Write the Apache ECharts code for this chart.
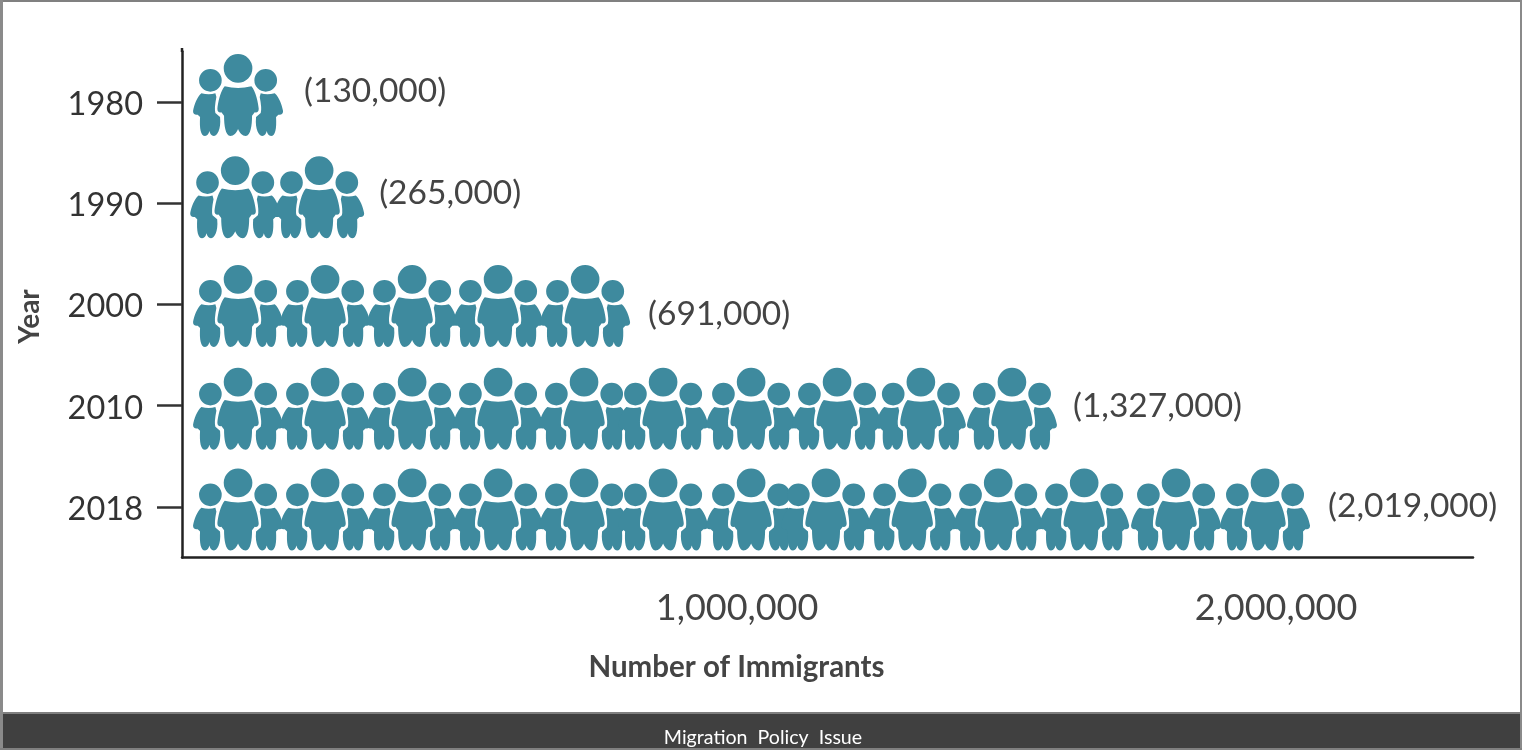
<!DOCTYPE html>
<html><head><meta charset="utf-8">
<style>html,body{margin:0;padding:0;background:#fff}#c{width:1522px;height:750px}</style>
<script src="https://cdn.jsdelivr.net/npm/echarts@6/dist/echarts.min.js"></script>
</head><body><div id="c"></div>
<script>
// Data
const years = ['1980', '1990', '2000', '2010', '2018'];
const immigrants = [130000, 265000, 691000, 1327000, 2019000];
const xTicks = [1000000, 2000000];
// Where each three-person icon sits, in immigrants on the x axis
const icons1980 = [74000];
const icons1990 = [68700, 224500];
const icons2000 = [74000, 235500, 397000, 556500, 718000];
const icons2010 = [74000, 235500, 397000, 556500, 716000, 862700, 1026000, 1185500, 1341000, 1510000];
const icons2018 = [74000, 235500, 397000, 556500, 716000, 862700, 1026000, 1165000, 1325000, 1484500, 1644000, 1814500, 1979600];
const iconRows = [icons1980, icons1990, icons2000, icons2010, icons2018];

// Presentation
const iconPath = 'path://' +
  'M92,44a43,43 0 1,0 86,0a43,43 0 1,0 -86,0Z' +
  'M95,98Q135,108 175,98C188,112 196,150 197,165Q197,178 185,176L177,186C177,215 173,245 158,247C148,247 140,238 135,226C130,238 122,247 112,247C97,245 93,215 93,186L85,176Q73,178 73,165C74,150 82,112 95,98Z' +
  'M18,80a34,34 0 1,0 68,0a34,34 0 1,0 -68,0Z' +
  'M25,119Q48,125 67,119L70,130Q63,165 67,178L81,190C85,230 71,247 62,247C55,247 51,240 49,232C47,240 43,247 36,247C23,247 19,225 21,190L14,183Q0,185 0,172C3,155 12,130 25,119Z' +
  'M184,80a34,34 0 1,0 68,0a34,34 0 1,0 -68,0Z' +
  'M245,119Q222,125 203,119L200,130Q207,165 203,178L189,190C185,230 199,247 208,247C215,247 219,240 221,232C223,240 227,247 234,247C247,247 251,225 249,190L256,183Q270,185 270,172C267,155 258,130 245,119Z';
const iconOffsetY = [-7, -6, 1.5, 3, 2.5];
const labelOffsetX = [2, -4, -1, -3, -1];
const labelOffsetY = [-4, -4, 8, -3, -3];
const font = 'Lato';
const chart = echarts.init(document.getElementById('c'), null, {renderer: 'canvas'});
chart.setOption({
  animation: false,
  backgroundColor: '#fff',
  grid: {left: 182, width: 1291, top: 51.4, height: 506.2, outerBoundsMode: 'none'},
  xAxis: {
    type: 'value', min: -30000, max: 2365500,
    axisLine: {show: true, onZero: false, lineStyle: {color: '#222', width: 2.5}},
    axisTick: {show: false}, splitLine: {show: false},
    axisLabel: {customValues: xTicks, margin: 33, fontFamily: font, fontSize: 36, color: '#444',
      formatter: v => Number(v).toLocaleString('en-US')},
    name: 'Number of Immigrants', nameLocation: 'middle', nameGap: 95,
    nameTextStyle: {fontFamily: font, fontSize: 29.5, fontWeight: 'bold', color: '#444', padding: [0, 182, 0, 0]}
  },
  yAxis: {
    type: 'category', inverse: true, data: years,
    axisLine: {show: true, onZero: false, lineStyle: {color: '#222', width: 2.5}},
    axisTick: {show: true, alignWithLabel: true, length: 25, lineStyle: {color: '#333', width: 2.5}},
    splitLine: {show: false},
    axisLabel: {margin: 39, fontFamily: font, fontSize: 32.5, color: '#333', verticalAlign: 'top', lineHeight: 5},
    name: 'Year', nameLocation: 'middle', nameGap: 138, nameRotate: 90,
    nameTextStyle: {fontFamily: font, fontSize: 28, fontWeight: 'bold', color: '#444', padding: [0, 24, 0, 0]}
  },
  graphic: [
    {type: 'rect', silent: true, z: -10, shape: {x: 0, y: 0, width: 1522, height: 2}, style: {fill: '#808080'}},
    {type: 'rect', silent: true, z: -10, shape: {x: 0, y: 0, width: 3, height: 750}, style: {fill: '#8a8a8a'}},
    {type: 'rect', silent: true, z: -10, shape: {x: 1520, y: 0, width: 2, height: 750}, style: {fill: '#8a8a8a'}},
    {type: 'rect', silent: true, z: 5, shape: {x: 3, y: 712, width: 1517, height: 38}, style: {fill: '#404040'}},
    {type: 'rect', silent: true, z: 5, shape: {x: 3, y: 712, width: 1517, height: 2}, style: {fill: '#808080'}},
    {type: 'rect', silent: true, z: 5, shape: {x: 0, y: 748, width: 1522, height: 2}, style: {fill: '#808080'}},
    {type: 'rect', silent: true, z: 5, shape: {x: 180.75, y: 48, width: 2.5, height: 4}, style: {fill: '#222'}},
    {type: 'text', z: 6, x: 763, y: 737.5, style: {text: 'Migration  Policy  Issue', fontFamily: font, fontSize: 19.6, fill: '#fff', align: 'center', verticalAlign: 'middle'}}
  ],
  series: iconRows.map((row, i) => ({
    type: 'scatter', name: years[i], symbol: iconPath, symbolSize: [90, 82],
    symbolOffset: [0, iconOffsetY[i]],
    itemStyle: {color: '#3e8a9e', opacity: 1},
    z: 3,
    data: row.map((v, j) => ({
      value: [v, years[i]],
      label: {
        show: j === row.length - 1, position: 'right', distance: 19,
        offset: [labelOffsetX[i], labelOffsetY[i]],
        formatter: '(' + immigrants[i].toLocaleString('en-US') + ')',
        fontFamily: font, fontSize: 33.5, color: '#444'
      }
    }))
  }))
});
</script></body></html>
